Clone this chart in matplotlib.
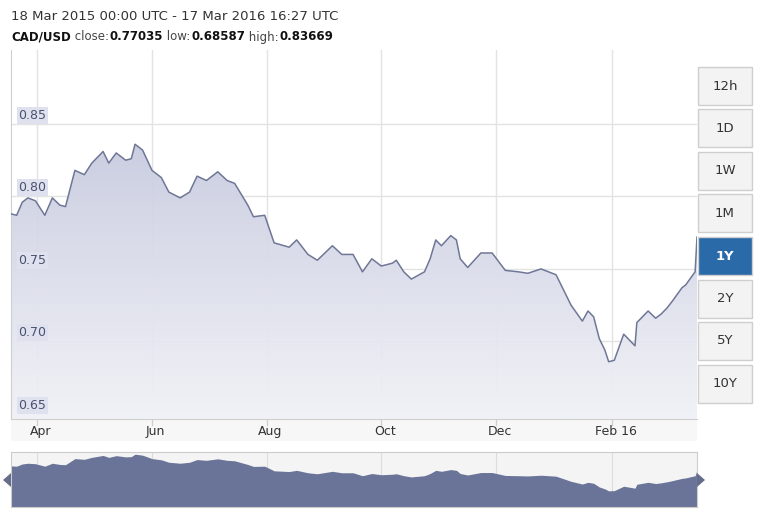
import matplotlib
matplotlib.use("Agg")
import matplotlib.pyplot as plt
import numpy as np
from matplotlib.patches import Rectangle, Polygon
from matplotlib.colors import LinearSegmentedColormap

# data: days since 18 Mar 2015, CAD/USD rate
days = [0, 3, 6, 9, 13, 18, 22, 26, 29, 34, 39, 43, 49, 52, 56, 61, 64, 66, 70, 75, 80, 84, 90, 95, 99, 104, 110, 115,
        119, 126, 129, 135, 140, 148, 152, 158, 163, 171, 176, 182, 187, 192, 197, 203, 205, 209, 213, 220, 223, 226,
        229, 234, 237, 239, 243, 250, 256, 263, 270, 275, 282, 290, 298, 304, 307, 310, 313, 316, 318, 321, 326, 332,
        333, 339, 343, 346, 349, 352, 357, 359, 364, 365]
rate = [0.788, 0.787, 0.796, 0.799, 0.797, 0.787, 0.799, 0.794, 0.793, 0.818, 0.815, 0.823, 0.831, 0.823, 0.830,
        0.825, 0.826, 0.836, 0.832, 0.818, 0.813, 0.803, 0.799, 0.803, 0.814, 0.811, 0.817, 0.811, 0.809, 0.794,
        0.786, 0.787, 0.768, 0.765, 0.770, 0.760, 0.756, 0.766, 0.760, 0.760, 0.748, 0.757, 0.752, 0.754, 0.756,
        0.748, 0.743, 0.748, 0.757, 0.770, 0.766, 0.773, 0.770, 0.757, 0.751, 0.761, 0.761, 0.749, 0.748, 0.747,
        0.750, 0.746, 0.725, 0.714, 0.721, 0.717, 0.702, 0.694, 0.686, 0.687, 0.705, 0.697, 0.713, 0.721, 0.716,
        0.719, 0.723, 0.728, 0.737, 0.739, 0.748, 0.772]

ticks_days = [14, 75, 136, 197, 258, 320]
tick_labels = ["Apr", "Jun", "Aug", "Oct", "Dec", "Feb 16"]
yticks = [0.65, 0.70, 0.75, 0.80, 0.85]
buttons = ["12h", "1D", "1W", "1M", "1Y", "2Y", "5Y", "10Y"]

W, H = 761, 518
fig = plt.figure(figsize=(W / 100, H / 100), dpi=100)
fig.patch.set_facecolor("white")

def fx(px): return px / W
def fy(py): return 1 - py / H

line_c = "#6f7796"
x = np.array(days, float); y = np.array(rate)

ax = fig.add_axes([fx(11), fy(419), fx(686), (419 - 50) / H])
ymin, ymax = 0.6465, 0.901
ax.set_xlim(0, 365); ax.set_ylim(ymin, ymax)
for d in ticks_days:
    ax.axvline(d, color="#e3e3e3", lw=1, zorder=0)
for v in yticks:
    ax.axhline(v, color="#e3e3e3", lw=1, zorder=0)
grad = np.linspace(1, 0, 256).reshape(-1, 1)
cmap = LinearSegmentedColormap.from_list("g", ["#f1f2f7", "#c9cce0"])
im = ax.imshow(grad, extent=[0, 365, ymin, max(rate)], aspect="auto", cmap=cmap, zorder=1, alpha=0.95)
poly = Polygon(np.vstack([[x[0], ymin], np.column_stack([x, y]), [x[-1], ymin]]), closed=True,
               facecolor="none", edgecolor="none", transform=ax.transData)
ax.add_patch(poly); im.set_clip_path(poly)
ax.plot(x, y, color=line_c, lw=1.1, zorder=3)
ax.set_xticks([]); ax.set_yticks([])
for s in ["top", "right", "bottom"]:
    ax.spines[s].set_visible(False)
ax.spines["left"].set_color("#cfcfcf")
for v in yticks:
    ax.text(4, v + 0.0015, f"{v:.2f}", fontsize=9, color="#4a5170", va="bottom", ha="left", zorder=5,
            bbox=dict(boxstyle="square,pad=0.15", fc="#dfe1ee", ec="none"))

axl = fig.add_axes([fx(11), fy(441), fx(686), 22 / H])
axl.set_xlim(0, 365); axl.set_ylim(0, 1)
axl.set_facecolor("#f7f7f7")
for s in axl.spines.values(): s.set_visible(False)
axl.spines["top"].set_visible(True); axl.spines["top"].set_color("#cfcfcf")
axl.set_xticks([]); axl.set_yticks([])
for d, lab in zip(ticks_days, tick_labels):
    axl.plot([d, d], [1, 0.75], color="#cfcfcf", lw=1)
    axl.text(d + 2, 0.45, lab, fontsize=9, color="#333333", ha="center", va="center")

axn = fig.add_axes([fx(11), fy(507), fx(686), (507 - 452) / H])
axn.set_xlim(0, 365); axn.set_ylim(0.62, 0.845)
axn.fill_between(x, y, 0.62, color="#6a7398", lw=0)
axn.set_facecolor("#f4f4f4")
axn.set_xticks([]); axn.set_yticks([])
for s in axn.spines.values(): s.set_color("#cccccc")
for d in ticks_days:
    axn.axvline(d, color="#dddddd", lw=0.8, zorder=0)
for pts in [[(3, 480), (11, 473), (11, 487)], [(705, 480), (697, 473), (697, 487)]]:
    fig.patches.append(Polygon([(fx(a), fy(b)) for a, b in pts], closed=True, transform=fig.transFigure,
                               fc="#666d8c", ec="none"))

for i, b in enumerate(buttons):
    top = 67 + i * 42.5
    sel = b == "1Y"
    fig.patches.append(Rectangle((fx(698), fy(top + 38)), fx(54), 38 / H, transform=fig.transFigure,
                                 fc="#2a6aa8" if sel else "#f3f3f3", ec="#cfcfcf", lw=1))
    fig.text(fx(725), fy(top + 19), b, ha="center", va="center", fontsize=9.5,
             color="white" if sel else "#333333", fontweight="bold" if sel else "normal")

fig.text(fx(11), fy(17), "18 Mar 2015 00:00 UTC - 17 Mar 2016 16:27 UTC", fontsize=9.5, color="#333333", va="center")

renderer = fig.canvas.get_renderer()
xpos = 11
parts = [("CAD/USD", "bold", "#111111"), (" close:", "normal", "#444444"), ("0.77035", "bold", "#111111"),
         (" low:", "normal", "#444444"), ("0.68587", "bold", "#111111"), (" high:", "normal", "#444444"),
         ("0.83669", "bold", "#111111")]
for txt, wgt, col in parts:
    t = fig.text(fx(xpos), fy(37), txt, fontsize=8.5, fontweight=wgt, color=col, va="center")
    bb = t.get_window_extent(renderer)
    xpos += bb.width + (1 if wgt == "normal" else 0)

fig.savefig("out.png", dpi=100)
